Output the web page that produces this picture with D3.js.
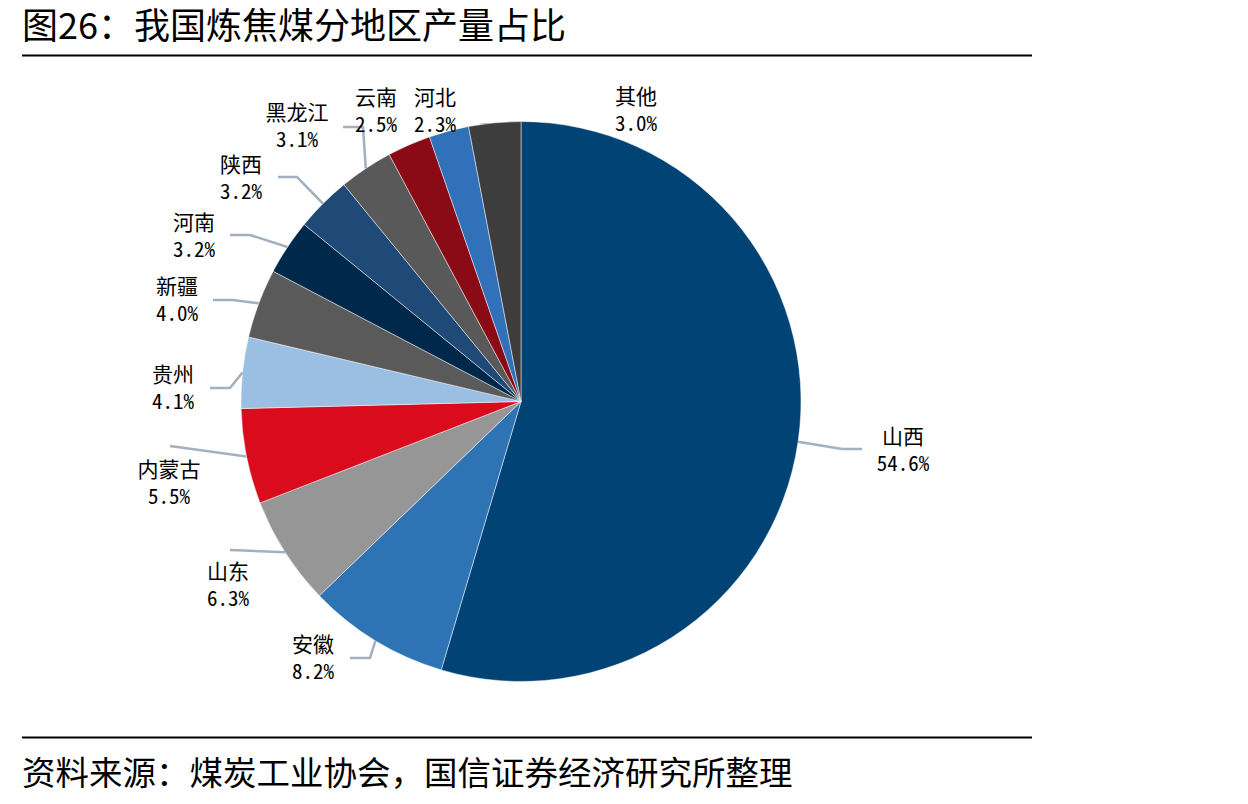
<!DOCTYPE html>
<html>
<head>
<meta charset="utf-8">
<script src="https://cdn.jsdelivr.net/npm/d3@7"></script>
<style>
  body { margin: 0; background: #fff; }
  svg { display: block; }
</style>
</head>
<body>
<div class="chart"></div>
<script>
// data
var regions = ["山西", "安徽", "山东", "内蒙古", "贵州", "新疆", "河南", "陕西", "黑龙江", "云南", "河北", "其他"];
var shares = [54.6, 8.2, 6.3, 5.5, 4.1, 4.0, 3.2, 3.2, 3.1, 2.5, 2.3, 3.0];
var sliceColors = ["#004374", "#2e74b5", "#969696", "#d90b1c", "#9bbfe3", "#5a5a5a",
                   "#00284a", "#1f4a78", "#595959", "#8a0b16", "#3071ba", "#3d3d3d"];

var titleText = "图26：我国炼焦煤分地区产量占比";
var sourceText = "资料来源：煤炭工业协会，国信证券经济研究所整理";

// label placement (layout only): label centre and leader bends
var labelPos = [[903, 437], [313, 645], [228, 572], [169, 470], [173, 375], [177, 287],
                [194, 223], [241, 165], [297, 113], [376, 98], [435, 98], [636, 97]];
var leaderBends = [
  [[842, 449], [862, 449]],
  [[370, 658], [350, 658]],
  [[230, 550]],
  [[170, 446]],
  [[230, 388], [210, 388]],
  [[233, 300], [213, 300]],
  [[250, 235], [230, 235]],
  [[297, 177], [278, 177]],
  [[363, 127], [343, 127]],
  null, null, null
];

var width = 1248, height = 804;
var cx = 521, cy = 401.5, radius = 280;

var svg = d3.select(".chart")
            .append("svg")
            .attr("width", width)
            .attr("height", height);

// title and rules
svg.append("text")
   .attr("x", 22)
   .attr("y", 39)
   .attr("font-family", "'Noto Sans CJK SC', sans-serif")
   .attr("font-size", 36)
   .attr("fill", "#000")
   .text(titleText);

svg.append("line")
   .attr("x1", 22).attr("x2", 1032)
   .attr("y1", 55.5).attr("y2", 55.5)
   .attr("stroke", "#000").attr("stroke-width", 2);

svg.append("line")
   .attr("x1", 22).attr("x2", 1032)
   .attr("y1", 737.5).attr("y2", 737.5)
   .attr("stroke", "#000").attr("stroke-width", 2);

svg.append("text")
   .attr("x", 22)
   .attr("y", 785)
   .attr("font-family", "'Noto Sans CJK SC', sans-serif")
   .attr("font-size", 33.5)
   .attr("fill", "#000")
   .text(sourceText);

// pie
var pie = d3.pie().sort(null).value(function(d) { return d; });
var arcs = pie(shares);

var arc = d3.arc().innerRadius(0).outerRadius(radius);
var edgeArc = d3.arc().innerRadius(radius).outerRadius(radius);

var g = svg.append("g").attr("transform", "translate(" + cx + "," + cy + ")");

g.selectAll("path.slice")
 .data(arcs)
 .enter()
 .append("path")
 .attr("class", "slice")
 .attr("d", arc)
 .attr("fill", function(d, i) { return sliceColors[i]; })
 .attr("stroke", "rgba(255,255,255,0.6)")
 .attr("stroke-width", 0.8);

// leader lines
var line = d3.line();
arcs.forEach(function(d, i) {
    if (!leaderBends[i]) return;
    var c = edgeArc.centroid(d);
    var pts = [[cx + c[0], cy + c[1]]].concat(leaderBends[i]);
    svg.append("path")
       .attr("d", line(pts))
       .attr("fill", "none")
       .attr("stroke", "#a3b0bf")
       .attr("stroke-width", 2.5);
});

// labels: region name over percentage, one text each
var labels = svg.selectAll("text.label")
                .data(arcs)
                .enter()
                .append("text")
                .attr("class", "label")
                .attr("text-anchor", "middle")
                .attr("font-size", 21)
                .attr("fill", "#000");

labels.append("tspan")
      .attr("x", function(d, i) { return labelPos[i][0]; })
      .attr("y", function(d, i) { return labelPos[i][1] + 7; })
      .attr("font-family", "'Noto Sans CJK SC', sans-serif")
      .text(function(d, i) { return regions[i]; });

labels.append("tspan")
      .attr("x", function(d, i) { return labelPos[i][0]; })
      .attr("y", function(d, i) { return labelPos[i][1] + 34; })
      .attr("font-family", "'Noto Sans Mono CJK SC', 'DejaVu Sans Mono', monospace")
      .text(function(d, i) { return shares[i].toFixed(1) + "%"; });
</script>
</body>
</html>
